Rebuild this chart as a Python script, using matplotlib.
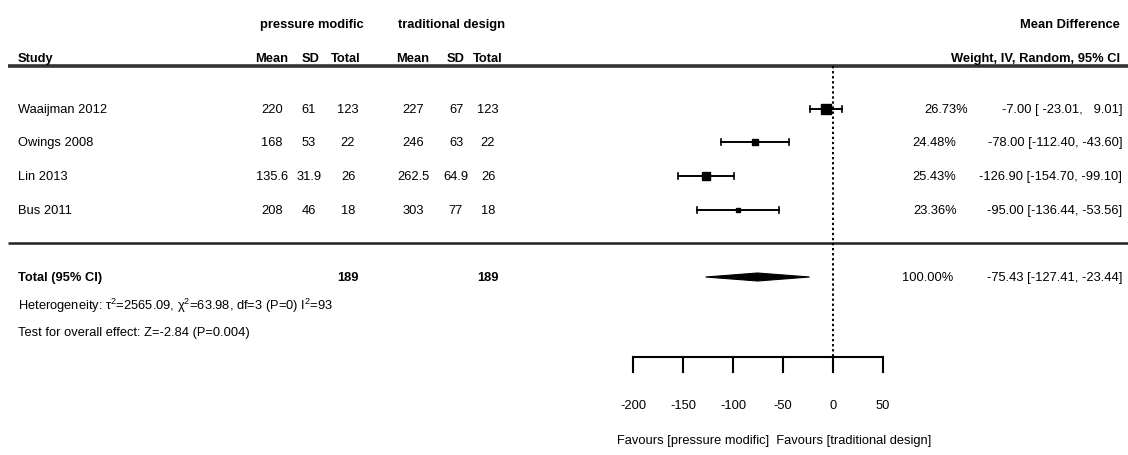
import matplotlib
matplotlib.use("Agg")
import matplotlib.pyplot as plt
from matplotlib import font_manager
from matplotlib.patches import Polygon

# ---------------- data ----------------
studies = ["Waaijman 2012", "Owings 2008", "Lin 2013", "Bus 2011"]
exp_mean = ["220", "168", "135.6", "208"]
exp_sd = ["61", "53", "31.9", "46"]
exp_n = ["123", "22", "26", "18"]
ctl_mean = ["227", "246", "262.5", "303"]
ctl_sd = ["67", "63", "64.9", "77"]
ctl_n = ["123", "22", "26", "18"]
md = [-7.00, -78.00, -126.90, -95.00]
ci_lo = [-23.01, -112.40, -154.70, -136.44]
ci_hi = [9.01, -43.60, -99.10, -53.56]
weights = ["26.73%", "24.48%", "25.43%", "23.36%"]
ci_text = ["-7.00 [ -23.01,   9.01]", "-78.00 [-112.40, -43.60]",
           "-126.90 [-154.70, -99.10]", "-95.00 [-136.44, -53.56]"]
total_exp_n = "189"
total_ctl_n = "189"
pooled_md = -75.43
pooled_lo = -127.41
pooled_hi = -23.44
pooled_weight = "100.00%"
pooled_text = "-75.43 [-127.41, -23.44]"
heterogeneity = "Heterogeneity: \u03c4$^{2}$=2565.09, \u03c7$^{2}$=63.98, df=3 (P=0) I$^{2}$=93"
overall = "Test for overall effect: Z=-2.84 (P=0.004)"
axis_ticks = [-200, -150, -100, -50, 0, 50]
group1 = "pressure modific"
group2 = "traditional design"
favours = "Favours [pressure modific]  Favours [traditional design]"

# ---------------- style ----------------
names = {f.name for f in font_manager.fontManager.ttflist}
if "Liberation Sans Narrow" in names:
    FAM = "Liberation Sans Narrow"
    FS = 11.2
else:
    FAM = "Liberation Sans"
    FS = 9.3
plt.rcParams["font.family"] = [FAM, "DejaVu Sans"]
plt.rcParams["mathtext.fontset"] = "custom"
plt.rcParams["mathtext.rm"] = FAM
plt.rcParams["mathtext.it"] = FAM
plt.rcParams["mathtext.bf"] = FAM + ":bold"

W, H = 1128, 456
X0 = 833  # pixel position of zero effect
fig = plt.figure(figsize=(W / 100, H / 100), dpi=100)
fig.patch.set_facecolor("white")

# text/table axes in pixel coords
at = fig.add_axes([0, 0, 1, 1])
at.set_xlim(0, W)
at.set_ylim(H, 0)
at.axis("off")
# forest axes in effect-size units (1 unit = 1 px)
af = fig.add_axes([0, 0, 1, 1])
af.set_xlim(-X0, W - X0)
af.set_ylim(H, 0)
af.axis("off")
af.patch.set_alpha(0)

row_y = [110, 143, 177, 211]
box_px = [10, 5.5, 8.5, 4]

def t(x, y, s, ha="center", bold=False, **kw):
    at.text(x, y, s, ha=ha, va="center", fontsize=FS,
            fontweight="bold" if bold else "normal", color="black", **kw)

# headers
t(312, 25, group1, bold=True)
t(452, 25, group2, bold=True)
t(1120, 25, "Mean Difference", ha="right", bold=True)
t(18, 59, "Study", ha="left", bold=True)
for cx, lab in zip([272, 311, 346, 413, 456, 488], ["Mean", "SD", "Total"] * 2):
    t(cx, 59, lab, bold=True)
t(1120, 59, "Weight, IV, Random, 95% CI", ha="right", bold=True)

# rules
at.plot([8, W], [67, 67], color="#333333", lw=2.6, solid_capstyle="butt")
at.plot([8, W], [244, 244], color="#222222", lw=1.8, solid_capstyle="butt")

# study rows
wx = [968, 956, 956, 957]
for i, y in enumerate(row_y):
    t(18, y, studies[i], ha="left")
    t(272, y, exp_mean[i]); t(309, y, exp_sd[i]); t(348, y, exp_n[i])
    t(413, y, ctl_mean[i]); t(456, y, ctl_sd[i]); t(488, y, ctl_n[i])
    t(wx[i], y, weights[i], ha="right")
    t(1122, y, ci_text[i], ha="right")

# totals
t(18, 278, "Total (95% CI)", ha="left", bold=True)
t(348, 278, total_exp_n, bold=True)
t(488, 278, total_ctl_n, bold=True)
t(953, 278, pooled_weight, ha="right")
t(1122, 278, pooled_text, ha="right")
t(18, 306, heterogeneity, ha="left")
t(18, 333, overall, ha="left")

# zero line
af.plot([0, 0], [67, 358], color="black", lw=1.4, ls=(0, (1.2, 1.4)))

# CIs and boxes
for i, y in enumerate(row_y):
    af.plot([ci_lo[i], ci_hi[i]], [y, y], color="black", lw=1.4)
    for e in (ci_lo[i], ci_hi[i]):
        af.plot([e, e], [y - 3, y + 3], color="black", lw=1.2)
    af.plot([md[i]], [y], marker="s", ms=box_px[i] * 0.72, color="black", mec="black")

# diamond
dy = 278
af.add_patch(Polygon([[pooled_lo, dy], [pooled_md, dy - 4], [pooled_hi, dy], [pooled_md, dy + 4]],
                     closed=True, facecolor="black", edgecolor="black", lw=0.8))

# axis
af.plot([axis_ticks[0], axis_ticks[-1]], [358, 358], color="black", lw=1.5)
for v in axis_ticks:
    af.plot([v, v], [358, 373], color="black", lw=1.5)
    af.text(v, 406, str(v), ha="center", va="center", fontsize=FS)
af.text(-59, 441, favours, ha="center", va="center", fontsize=FS)

fig.savefig("out.png", dpi=100, facecolor="white")
